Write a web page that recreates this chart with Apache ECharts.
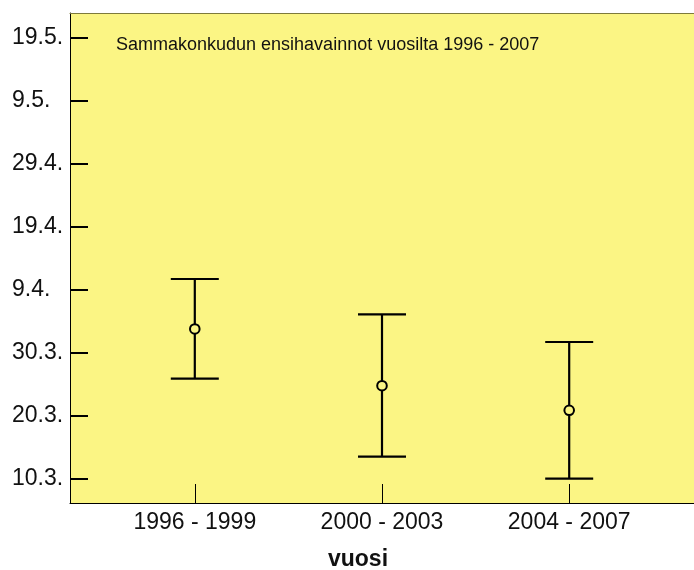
<!DOCTYPE html>
<html>
<head>
<meta charset="utf-8">
<script src="https://cdn.jsdelivr.net/npm/echarts@6/dist/echarts.min.js"></script>
<style>html,body{margin:0;padding:0;background:#fff;}#c{width:694px;height:570px;}</style>
</head>
<body>
<div id="c"></div>
<script>
// Categories (periods) and their positions on the x axis
const categories = ['1996 - 1999', '2000 - 2003', '2004 - 2007'];
const categoryPos = [1, 2, 3];
// Y values: days counted from 10.3.
const meanDay = [23.75, 14.75, 10.85];
const highDay = [31.67, 26.07, 21.68];
const lowDay  = [15.86, 3.49, 0.0];
// Y tick values and labels
const yTickValues = [0, 10, 20, 30, 40, 50, 60, 70];
const yTickLabels = ['10.3.', '20.3.', '30.3.', '9.4.', '19.4.', '29.4.', '9.5.', '19.5.'];
const titleText = 'Sammakonkudun ensihavainnot vuosilta 1996 - 2007';
const xName = 'vuosi';

const FONT = '"Liberation Sans", Arial, sans-serif';
const chart = echarts.init(document.getElementById('c'), null, {renderer: 'canvas'});

const data = categoryPos.map((x, i) => [x, meanDay[i], lowDay[i], highDay[i]]);

const option = {
  animation: false,
  backgroundColor: '#ffffff',
  title: {
    text: titleText,
    left: 111, top: 31,
    textStyle: {fontFamily: FONT, fontSize: 18, fontWeight: 'normal', color: '#111'}
  },
  graphic: [{
    type: 'text', x: 358, y: 548,
    style: {text: xName, font: 'bold 23px ' + FONT, fill: '#111', align: 'center', verticalAlign: 'top'}
  }],
  grid: {
    left: 70, right: -4, top: 13, bottom: 67,
    show: true, backgroundColor: '#fbf584', borderWidth: 0
  },
  xAxis: [{
    type: 'value', min: 1/3, max: 11/3, position: 'bottom',
    splitLine: {show: false},
    axisLine: {show: true, onZero: false, lineStyle: {color: '#000', width: 1}},
    axisTick: {show: true, inside: true, length: 19, customValues: categoryPos, lineStyle: {color: '#000', width: 1}},
    axisLabel: {
      customValues: categoryPos, margin: 8,
      fontFamily: FONT, fontSize: 23, color: '#111',
      formatter: v => categories[categoryPos.indexOf(Math.round(v))] || ''
    }
  }, {
    type: 'value', min: 1/3, max: 11/3, position: 'top',
    splitLine: {show: false},
    axisLine: {show: true, onZero: false, lineStyle: {color: '#7d7a3c', width: 1}},
    axisTick: {show: false}, axisLabel: {show: false}
  }],
  yAxis: {
    type: 'value', min: -3.85, max: 73.85,
    splitLine: {show: false},
    axisLine: {show: true, onZero: false, lineStyle: {color: '#000', width: 1}},
    axisTick: {show: true, inside: true, length: 18, customValues: yTickValues, lineStyle: {color: '#000', width: 2}},
    axisLabel: {
      customValues: yTickValues, align: 'left', margin: 58,
      fontFamily: FONT, fontSize: 23, color: '#111',
      formatter: v => yTickLabels[yTickValues.indexOf(Math.round(v))] || ''
    }
  },
  series: [{
    type: 'custom',
    xAxisIndex: 0,
    data: data,
    renderItem: function (params, api) {
      const x = api.value(0);
      const pm = api.coord([x, api.value(1)]);
      const pl = api.coord([x, api.value(2)]);
      const ph = api.coord([x, api.value(3)]);
      const half = 24;
      const r = 4.8;
      const st = {stroke: '#000', lineWidth: 2.2, fill: null};
      return {
        type: 'group',
        children: [
          {type: 'line', shape: {x1: ph[0], y1: ph[1], x2: pm[0], y2: pm[1] - r}, style: st},
          {type: 'line', shape: {x1: pm[0], y1: pm[1] + r, x2: pl[0], y2: pl[1]}, style: st},
          {type: 'line', shape: {x1: ph[0] - half, y1: ph[1], x2: ph[0] + half, y2: ph[1]}, style: st},
          {type: 'line', shape: {x1: pl[0] - half, y1: pl[1], x2: pl[0] + half, y2: pl[1]}, style: st},
          {type: 'circle', shape: {cx: pm[0], cy: pm[1], r: r}, style: {stroke: '#000', lineWidth: 2, fill: 'none'}}
        ]
      };
    }
  }]
};
chart.setOption(option);
</script>
</body>
</html>
